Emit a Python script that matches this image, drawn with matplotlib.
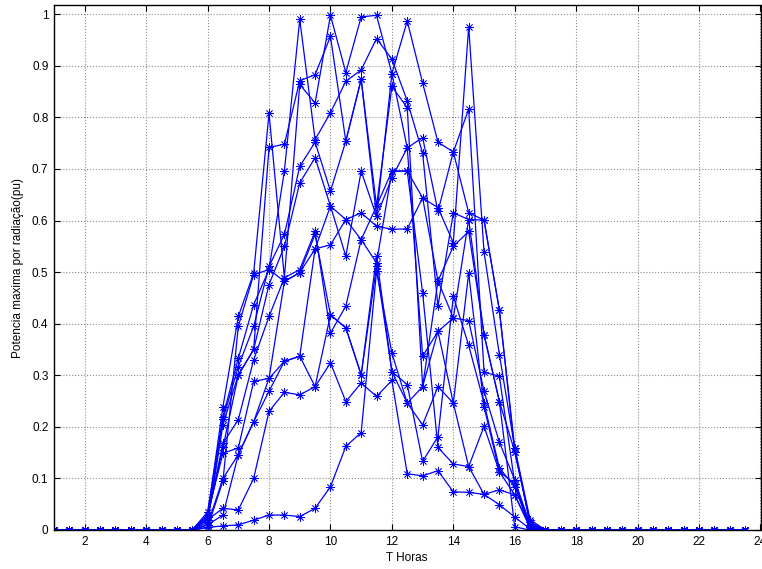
import numpy as np
import matplotlib
matplotlib.use("Agg")
import matplotlib.pyplot as plt

# half-hour sample times of the daylight window
day_hours = [6.0, 6.5, 7.0, 7.5, 8.0, 8.5, 9.0, 9.5, 10.0, 10.5, 11.0,
             11.5, 12.0, 12.5, 13.0, 13.5, 14.0, 14.5, 15.0, 15.5, 16.0, 16.5]
all_hours = [h / 2 for h in range(1, 48)]   # 0.5 .. 23.5

s1 = [0.005, 0.008, 0.010, 0.019, 0.029, 0.029, 0.026, 0.042, 0.084, 0.162, 0.189,
      0.502, 0.343, 0.246, 0.204, 0.278, 0.246, 0.123, 0.069, 0.049, 0.025, 0.002]
s2 = [0.020, 0.042, 0.039, 0.100, 0.230, 0.267, 0.262, 0.278, 0.324, 0.249, 0.285,
      0.259, 0.290, 0.109, 0.105, 0.115, 0.074, 0.073, 0.069, 0.078, 0.068, 0.005]
s3 = [0.010, 0.100, 0.146, 0.210, 0.269, 0.327, 0.337, 0.545, 0.553, 0.602, 0.615,
      0.589, 0.583, 0.584, 0.644, 0.625, 0.557, 0.976, 0.539, 0.340, 0.159, 0.010]
s4 = [0.030, 0.149, 0.159, 0.288, 0.294, 0.482, 0.499, 0.573, 0.417, 0.392, 0.301,
      0.531, 0.307, 0.282, 0.133, 0.181, 0.453, 0.358, 0.246, 0.120, 0.084, 0.005]
s5 = [0.025, 0.168, 0.214, 0.330, 0.414, 0.489, 0.505, 0.579, 0.382, 0.434, 0.563,
      0.518, 0.696, 0.696, 0.460, 0.160, 0.128, 0.123, 0.201, 0.113, 0.090, 0.000]
s6 = [0.015, 0.204, 0.301, 0.350, 0.476, 0.550, 0.673, 0.722, 0.628, 0.531, 0.696,
      0.608, 0.683, 0.741, 0.337, 0.385, 0.411, 0.406, 0.269, 0.170, 0.097, 0.010]
s7 = [0.020, 0.215, 0.317, 0.395, 0.511, 0.573, 0.705, 0.752, 0.657, 0.754, 0.874,
      0.628, 0.860, 0.819, 0.278, 0.483, 0.550, 0.579, 0.379, 0.249, 0.152, 0.015]
s8 = [0.035, 0.220, 0.333, 0.437, 0.505, 0.696, 0.990, 0.757, 0.809, 0.870, 0.892,
      0.953, 0.913, 0.832, 0.731, 0.434, 0.615, 0.602, 0.601, 0.426, 0.159, 0.020]
s9 = [0.030, 0.239, 0.414, 0.498, 0.808, 0.489, 0.864, 0.828, 0.998, 0.887, 0.995,
      0.998, 0.885, 0.987, 0.867, 0.752, 0.733, 0.816, 0.306, 0.298, 0.090, 0.010]
s10 = [0.010, 0.029, 0.146, 0.210, 0.294, 0.327, 0.337, 0.278, 0.417, 0.392, 0.301,
       0.511, 0.307, 0.246, 0.278, 0.385, 0.246, 0.498, 0.239, 0.113, 0.068, 0.005]
s11 = [0.025, 0.160, 0.300, 0.350, 0.742, 0.748, 0.871, 0.883, 0.957, 0.754, 0.874,
       0.608, 0.885, 0.741, 0.761, 0.618, 0.733, 0.615, 0.601, 0.426, 0.152, 0.015]
s12 = [0.005, 0.095, 0.395, 0.495, 0.505, 0.482, 0.499, 0.545, 0.628, 0.602, 0.563,
       0.628, 0.696, 0.696, 0.644, 0.483, 0.411, 0.602, 0.379, 0.249, 0.006, 0.000]

series = [s1, s2, s3, s4, s5, s6, s7, s8, s9, s10, s11, s12]

x_ticks = [2, 4, 6, 8, 10, 12, 14, 16, 18, 20, 22, 24]
y_ticks = [0, 0.1, 0.2, 0.3, 0.4, 0.5, 0.6, 0.7, 0.8, 0.9, 1]
y_tick_labels = ["0", "0.1", "0.2", "0.3", "0.4", "0.5", "0.6", "0.7", "0.8", "0.9", "1"]

plt.rcParams['font.family'] = ['Liberation Sans', 'DejaVu Sans']

fig = plt.figure(figsize=(7.62, 5.69), dpi=100)
ax = fig.add_axes([54 / 762, 1 - 530 / 569, (760.5 - 54) / 762, (530 - 5) / 569])

for s in series:
    full = []
    for h in all_hours:
        if h in day_hours:
            full.append(s[day_hours.index(h)])
        else:
            full.append(0.0)
    ax.plot(all_hours, full, color='#0000ff', linewidth=0.9,
            marker=(8, 2, 0), markersize=6, markeredgewidth=0.55,
            clip_on=True, zorder=3)

ax.set_xlim(1, 24)
ax.set_ylim(0, 1.018)
ax.set_xticks(x_ticks)
ax.set_xticklabels([str(t) for t in x_ticks])
ax.set_yticks(y_ticks)
ax.set_yticklabels(y_tick_labels)
ax.tick_params(direction='in', top=True, right=True, labelsize=8.5,
               length=4, width=0.8, colors='black', pad=4)
ax.grid(True, linestyle=':', color='#8a8a8a', linewidth=0.8)
ax.set_axisbelow(True)
for sp in ax.spines.values():
    sp.set_linewidth(1.0)
    sp.set_color('black')
    sp.set_zorder(5)

ax.set_xlabel('T Horas', fontsize=8.5, labelpad=3)
ax.set_ylabel('Potencia maxima por radiação(pu)', fontsize=8.5, labelpad=6)

fig.savefig('out.png', dpi=100)
